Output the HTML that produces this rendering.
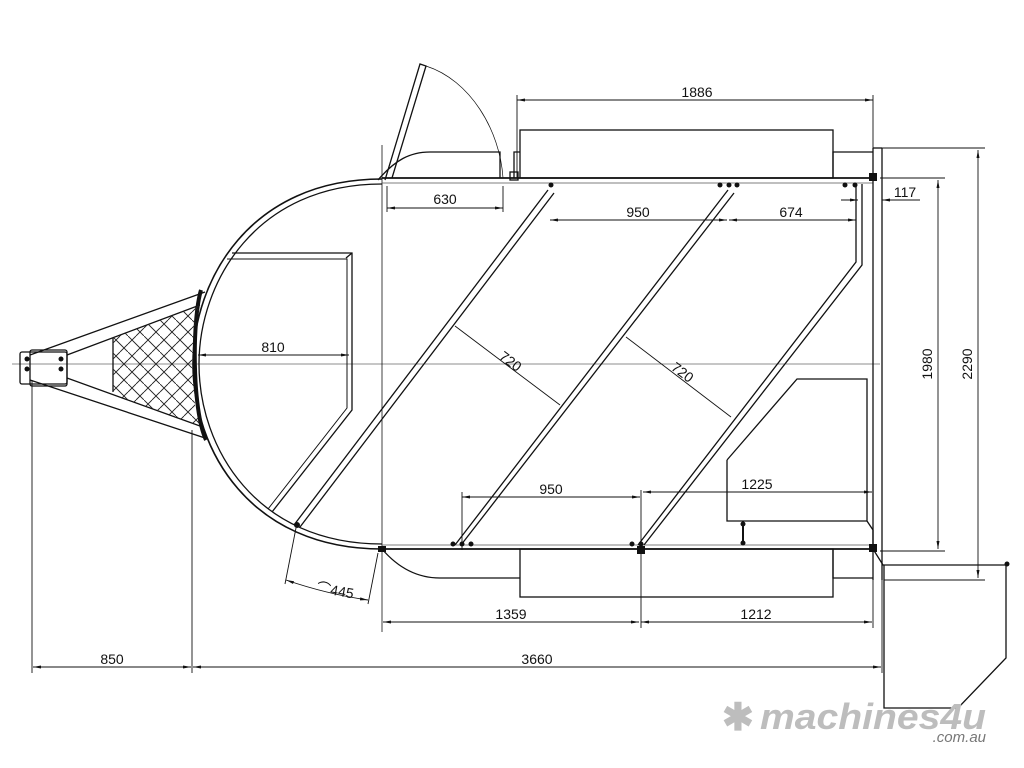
<!DOCTYPE html>
<html><head><meta charset="utf-8"><style>
html,body{margin:0;padding:0;background:#fff;width:1024px;height:768px;overflow:hidden}
svg{display:block}
text{font-family:"Liberation Sans",sans-serif;font-size:14px;fill:#111}
</style></head><body>
<svg width="1024" height="768" viewBox="0 0 1024 768" xmlns="http://www.w3.org/2000/svg">
<defs>
<pattern id="hb" width="16" height="16" patternUnits="userSpaceOnUse">
<path d="M0 8 L8 0 M8 16 L16 8 M0 0 L8 8 M8 8 L16 16" stroke="#222" stroke-width="0.9" fill="none"/>
</pattern>
<marker id="a" markerWidth="8" markerHeight="6" refX="8" refY="3" orient="auto-start-reverse" markerUnits="userSpaceOnUse"><path d="M0 1.5 L8 3 L0 4.5Z" fill="#111"/></marker>
</defs>
<g fill="none" stroke="#111" stroke-width="1.3">
<line x1="12" y1="364" x2="880" y2="364" stroke="#666" stroke-width="0.8"/>
<line x1="382" y1="145" x2="382" y2="632" stroke-width="0.8"/>

<path d="M382 179 C250 179 193 280 193 364 C193 450 250 549 382 549" stroke-width="1.6"/>
<path d="M382 184 C256 184 199 282 199 364 C199 448 256 544 382 544" stroke-width="1.3"/>
<path d="M201 290 C192 320 192 410 206 440" stroke-width="4"/>

<line x1="382" y1="178" x2="873" y2="178" stroke-width="1.8"/>
<line x1="382" y1="183" x2="873" y2="183" stroke-width="0.8" stroke="#555"/>
<line x1="382" y1="549" x2="873" y2="549" stroke-width="1.8"/>
<line x1="382" y1="545" x2="873" y2="545" stroke-width="0.8" stroke="#555"/>
<line x1="873" y1="148" x2="873" y2="580"/>
<line x1="882" y1="148" x2="882" y2="580"/>
<line x1="873" y1="148" x2="882" y2="148"/>

<rect x="520" y="130" width="313" height="48"/>
<path d="M833 178 V152 H873"/>
<path d="M514 178 V152 H520"/>
<path d="M378 180 C395 160 410 152 430 152 H500 V178"/>
<rect x="510" y="172" width="8" height="8"/>
<path d="M385 180 L420 64 L426 66 L392 178"/>
<path d="M426 66 C470 80 500 130 503 178" stroke-width="0.7"/>

<rect x="520" y="549" width="313" height="48"/>
<path d="M833 549 V578 H873"/>
<path d="M382 549 C400 570 420 578 440 578 H520"/>

<rect x="20" y="352" width="47" height="32" rx="2"/>
<rect x="30" y="350" width="37" height="36" rx="2"/>
<path d="M30 355 L205 292"/>
<path d="M30 380 L205 438"/>
<path d="M67 355 L200 305"/>
<path d="M67 378 L200 426"/>
<line x1="113" y1="338" x2="113" y2="392"/>
<path d="M113 338 L200 305 L194 330 L192 364 L195 405 L200 426 L113 394 Z" fill="url(#hb)" stroke="none"/>

<path d="M232 253 H352 V410 L272 512"/>
<path d="M227 259 H347 V408 L268 509" stroke-width="1"/>
<line x1="346" y1="258" x2="352" y2="253"/>

<path d="M294 525 L548 190" /><path d="M300 527 L554 193"/>
<path d="M455 545 L728 190"/><path d="M461 545 L734 193"/>
<path d="M638 545 L856 262 V184"/><path d="M644 545 L862 265 V184"/>

<path d="M727 460 L797 379 H867 V521 L873 530 V549"/>
<path d="M727 460 V521 H867"/>
<line x1="743" y1="521" x2="743" y2="543" stroke-width="2"/>

<path d="M873 549 L883 565 H1006 V658 L958 708 H884 V565"/>

<g stroke-width="0.9">
<line x1="517" y1="100" x2="873" y2="100" marker-start="url(#a)" marker-end="url(#a)"/>
<line x1="517" y1="95" x2="517" y2="178"/><line x1="873" y1="95" x2="873" y2="148"/>
<line x1="387" y1="208" x2="503" y2="208" marker-start="url(#a)" marker-end="url(#a)"/>
<line x1="387" y1="186" x2="387" y2="212"/><line x1="503" y1="186" x2="503" y2="212"/>
<line x1="550" y1="220" x2="727" y2="220" marker-start="url(#a)" marker-end="url(#a)"/>
<line x1="729" y1="220" x2="856" y2="220" marker-start="url(#a)" marker-end="url(#a)"/>
<line x1="841" y1="200" x2="858" y2="200" marker-end="url(#a)"/><line x1="882" y1="200" x2="920" y2="200" marker-start="url(#a)"/>
<line x1="455" y1="326" x2="560" y2="405"/>
<line x1="626" y1="337" x2="731" y2="417"/>
<line x1="198" y1="355" x2="349" y2="355" marker-start="url(#a)" marker-end="url(#a)"/>
<line x1="462" y1="497" x2="640" y2="497" marker-start="url(#a)" marker-end="url(#a)"/>
<line x1="462" y1="492" x2="462" y2="550"/><line x1="641" y1="490" x2="641" y2="550"/>
<line x1="643" y1="492" x2="872" y2="492" marker-start="url(#a)" marker-end="url(#a)"/>
<line x1="880" y1="178" x2="945" y2="178"/><line x1="880" y1="551" x2="945" y2="551"/>
<line x1="938" y1="180" x2="938" y2="549" marker-start="url(#a)" marker-end="url(#a)"/>
<line x1="882" y1="148" x2="985" y2="148"/><line x1="884" y1="580" x2="985" y2="580"/>
<line x1="978" y1="150" x2="978" y2="578" marker-start="url(#a)" marker-end="url(#a)"/>
<line x1="383" y1="622" x2="639" y2="622" marker-start="url(#a)" marker-end="url(#a)"/>
<line x1="641" y1="622" x2="872" y2="622" marker-start="url(#a)" marker-end="url(#a)"/>
<line x1="641" y1="549" x2="641" y2="628"/><line x1="873" y1="580" x2="873" y2="628"/>
<line x1="32" y1="380" x2="32" y2="673"/><line x1="192" y1="430" x2="192" y2="673"/>
<line x1="882" y1="580" x2="882" y2="673"/>
<line x1="33" y1="667" x2="191" y2="667" marker-start="url(#a)" marker-end="url(#a)"/>
<line x1="193" y1="667" x2="881" y2="667" marker-start="url(#a)" marker-end="url(#a)"/>
<line x1="296" y1="528" x2="285" y2="584"/><line x1="378" y1="553" x2="368" y2="604"/>
<path d="M286 580 C315 590 340 596 368 600" marker-start="url(#a)" marker-end="url(#a)"/>
</g>
</g>
<g fill="#111">
<circle cx="27" cy="359" r="2.5"/><circle cx="27" cy="369" r="2.5"/><circle cx="61" cy="359" r="2.5"/><circle cx="61" cy="369" r="2.5"/>
<circle cx="551" cy="185" r="2.5"/><circle cx="720" cy="185" r="2.5"/><circle cx="729" cy="185" r="2.5"/><circle cx="737" cy="185" r="2.5"/>
<circle cx="845" cy="185" r="2.5"/><circle cx="855" cy="185" r="2.5"/>
<circle cx="453" cy="544" r="2.5"/><circle cx="462" cy="544" r="2.5"/><circle cx="471" cy="544" r="2.5"/>
<circle cx="632" cy="544" r="2.5"/><circle cx="641" cy="544" r="2.5"/>
<circle cx="743" cy="543" r="2.5"/><circle cx="743" cy="524" r="2.5"/><circle cx="297" cy="525" r="3"/>
<circle cx="1007" cy="564" r="2.5"/>
<rect x="869" y="173" width="8" height="8"/><rect x="378" y="546" width="8" height="6"/><rect x="869" y="544" width="8" height="8"/><rect x="637" y="546" width="8" height="8"/>
</g>
<g>
<text x="697" y="97" text-anchor="middle">1886</text>
<text x="445" y="204" text-anchor="middle">630</text>
<text x="638" y="217" text-anchor="middle">950</text>
<text x="791" y="217" text-anchor="middle">674</text>
<text x="905" y="197" text-anchor="middle">117</text>
<text x="273" y="352" text-anchor="middle">810</text>
<text x="510" y="366" text-anchor="middle" transform="rotate(37 510 362)">720</text>
<text x="682" y="377" text-anchor="middle" transform="rotate(37 682 373)">720</text>
<text x="551" y="494" text-anchor="middle">950</text>
<text x="757" y="489" text-anchor="middle">1225</text>
<text x="932" y="364" text-anchor="middle" transform="rotate(-90 932 364)">1980</text>
<text x="972" y="364" text-anchor="middle" transform="rotate(-90 972 364)">2290</text>
<text x="511" y="619" text-anchor="middle">1359</text>
<text x="756" y="619" text-anchor="middle">1212</text>
<text x="112" y="664" text-anchor="middle">850</text>
<text x="537" y="664" text-anchor="middle">3660</text>
<text x="316" y="592" transform="rotate(10 316 592)">⌒445</text>
<text x="722" y="730" style="font-size:38px;font-weight:bold;fill:#bdbdbd">✱</text>
<text x="760" y="729" textLength="226" lengthAdjust="spacingAndGlyphs" style="font-size:36px;font-weight:bold;fill:#bdbdbd;font-style:italic">machines4u</text>
<text x="986" y="742" text-anchor="end" style="font-size:15px;fill:#777;font-style:italic">.com.au</text>
</g>
</svg>
</body></html>
